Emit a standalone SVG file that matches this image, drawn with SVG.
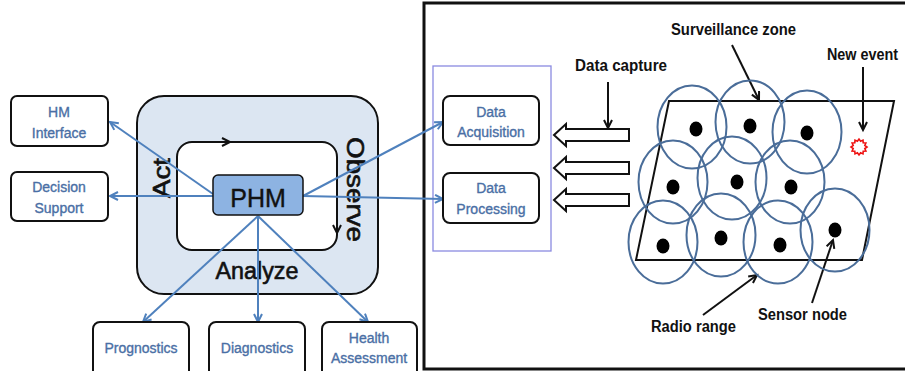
<svg xmlns="http://www.w3.org/2000/svg" width="905" height="371" viewBox="0 0 905 371">
<defs>
<style>
.box{fill:#fff;stroke:#111;stroke-width:2}
.bt{font-family:"Liberation Sans",Arial,sans-serif;font-size:14px;fill:#4a6fa5;stroke:#4a6fa5;stroke-width:0.35;text-anchor:middle}
.big{font-family:"Liberation Sans",Arial,sans-serif;font-size:23px;fill:#111;stroke:#111;stroke-width:0.6}
.lab{font-family:"Liberation Sans",Arial,sans-serif;font-size:16px;font-weight:bold;fill:#111}
.bl{stroke:#4f81bd;stroke-width:2;fill:none;marker-end:url(#ab)}
.kl{stroke:#111;stroke-width:2;fill:none;marker-end:url(#ak)}
.cir{fill:none;stroke:#4a6d99;stroke-width:2}
.blk{fill:#fff;stroke:#111;stroke-width:2;stroke-linejoin:miter}
</style>
<marker id="ab" markerWidth="12" markerHeight="12" refX="9" refY="5" orient="auto" markerUnits="userSpaceOnUse"><path d="M1,1 L9,5 L1,9" fill="none" stroke="#4f81bd" stroke-width="2"/></marker>
<marker id="ak" markerWidth="12" markerHeight="12" refX="9" refY="5" orient="auto" markerUnits="userSpaceOnUse"><path d="M1,1 L9,5 L1,9" fill="none" stroke="#111" stroke-width="2"/></marker>
</defs>
<rect width="905" height="371" fill="#fff"/>

<g id="phm-loop">
<rect x="137" y="96" width="241" height="198" rx="27" fill="#dce6f2" stroke="#111" stroke-width="2"/>
<rect x="177" y="142" width="160" height="108" rx="15" fill="#fff" stroke="#111" stroke-width="2"/>
<path d="M200,142 H230" class="kl"/>
<path d="M337,205 V233" class="kl"/>
<text class="big" text-anchor="middle" textLength="40" lengthAdjust="spacingAndGlyphs" transform="translate(170,178) rotate(-90)">Act</text>
<text class="big" text-anchor="middle" textLength="105" lengthAdjust="spacingAndGlyphs" transform="translate(347,189.5) rotate(90)">Observe</text>
<text class="big" x="257" y="279" text-anchor="middle" textLength="83" lengthAdjust="spacingAndGlyphs">Analyze</text>
</g>

<g id="frame">
<rect x="424" y="3" width="500" height="366" fill="none" stroke="#111" stroke-width="3"/>
<rect x="433" y="66" width="118" height="185" fill="none" stroke="#8a8ae0" stroke-width="1.3"/>
</g>

<g id="connectors">
<path class="bl" d="M213,194 L110,122"/>
<path class="bl" d="M213,196 L110,196"/>
<path class="bl" d="M303,196 L443,122"/>
<path class="bl" d="M303,196 L443,199"/>
<path class="bl" d="M258,216 L143,322"/>
<path class="bl" d="M258,216 L258,322"/>
<path class="bl" d="M258,216 L368,322"/>
<path class="kl" d="M608,82 V128"/>
<path class="kl" d="M732,45 L759,100"/>
<path class="kl" d="M863,67 V130"/>
<path class="kl" d="M703,315 L757,275"/>
<path class="kl" d="M812,303 L833,240"/>
</g>

<g id="phm">
<rect x="213" y="175" width="90" height="40" rx="5" fill="#8db3e2" stroke="#111" stroke-width="1.5"/>
<text x="258" y="207" text-anchor="middle" font-family="'Liberation Sans',Arial,sans-serif" font-size="25" fill="#111" stroke="#111" stroke-width="0.4">PHM</text>
</g>

<g id="hm-interface">
<rect class="box" x="11" y="96" width="97" height="50" rx="6"/>
<text class="bt" x="59" y="117">HM</text>
<text class="bt" x="59" y="138">Interface</text>
</g>
<g id="decision-support">
<rect class="box" x="11" y="172" width="97" height="49" rx="6"/>
<text class="bt" x="59" y="192">Decision</text>
<text class="bt" x="59" y="213">Support</text>
</g>
<g id="prognostics">
<rect class="box" x="93" y="322" width="96" height="60" rx="7"/>
<text class="bt" x="141" y="353">Prognostics</text>
</g>
<g id="diagnostics">
<rect class="box" x="209" y="322" width="96" height="60" rx="7"/>
<text class="bt" x="257" y="353">Diagnostics</text>
</g>
<g id="health-assessment">
<rect class="box" x="322" y="322" width="95" height="60" rx="7"/>
<text class="bt" x="369" y="343">Health</text>
<text class="bt" x="369" y="363">Assessment</text>
</g>
<g id="data-acquisition">
<rect class="box" x="443" y="96" width="96" height="49" rx="7"/>
<text class="bt" x="491" y="117">Data</text>
<text class="bt" x="491" y="137">Acquisition</text>
</g>
<g id="data-processing">
<rect class="box" x="443" y="173" width="96" height="50" rx="7"/>
<text class="bt" x="491" y="193">Data</text>
<text class="bt" x="491" y="214">Processing</text>
</g>

<g id="block-arrows">
<path class="blk" d="M554,135 L566,124 L566,129 L629,129 L629,141 L566,141 L566,146 Z"/>
<path class="blk" d="M554,168 L566,157 L566,162 L629,162 L629,174 L566,174 L566,179 Z"/>
<path class="blk" d="M554,200 L566,189 L566,194 L629,194 L629,206 L566,206 L566,211 Z"/>
</g>

<g id="surveillance-zone">
<polygon points="669,101 894,101 862,260 636,260" fill="none" stroke="#111" stroke-width="2"/>
<ellipse class="cir" cx="692" cy="127" rx="34.5" ry="41.5"/>
<ellipse class="cir" cx="750" cy="122" rx="34.5" ry="41.5"/>
<ellipse class="cir" cx="807" cy="132" rx="34.5" ry="41.5"/>
<ellipse class="cir" cx="673" cy="182" rx="34.5" ry="41.5"/>
<ellipse class="cir" cx="732" cy="178" rx="34.5" ry="41.5"/>
<ellipse class="cir" cx="790" cy="182" rx="34.5" ry="41.5"/>
<ellipse class="cir" cx="663" cy="242" rx="34.5" ry="41.5"/>
<ellipse class="cir" cx="721" cy="235" rx="34.5" ry="41.5"/>
<ellipse class="cir" cx="778" cy="242" rx="34.5" ry="41.5"/>
<ellipse class="cir" cx="835" cy="230" rx="34.5" ry="41.5"/>
<g fill="#000">
<ellipse cx="696" cy="129" rx="6.5" ry="7.5"/>
<ellipse cx="750" cy="126" rx="6.5" ry="7.5"/>
<ellipse cx="807" cy="133" rx="6.5" ry="7.5"/>
<ellipse cx="673" cy="187" rx="6.5" ry="7.5"/>
<ellipse cx="737" cy="182" rx="6.5" ry="7.5"/>
<ellipse cx="791" cy="187" rx="6.5" ry="7.5"/>
<ellipse cx="663" cy="246" rx="6.5" ry="7.5"/>
<ellipse cx="721" cy="238" rx="6.5" ry="7.5"/>
<ellipse cx="780" cy="245" rx="6.5" ry="7.5"/>
<ellipse cx="835" cy="230" rx="6.5" ry="7.5"/>
</g>
<polygon points="867,147 864.8,148.6 865.9,151 863.2,151.2 863,153.9 860.6,152.8 859,155 857.4,152.8 855,153.9 854.8,151.2 852.1,151 853.2,148.6 851,147 853.2,145.4 852.1,143 854.8,142.8 855,140.1 857.4,141.2 859,139 860.6,141.2 863,140.1 863.2,142.8 865.9,143 864.8,145.4" fill="none" stroke="#ee1111" stroke-width="1.6"/>
</g>

<g id="labels">
<text class="lab" x="575" y="71" textLength="92" lengthAdjust="spacingAndGlyphs">Data capture</text>
<text class="lab" x="671" y="35" textLength="125" lengthAdjust="spacingAndGlyphs">Surveillance zone</text>
<text class="lab" x="827" y="60" textLength="71" lengthAdjust="spacingAndGlyphs">New event</text>
<text class="lab" x="651" y="332" textLength="85" lengthAdjust="spacingAndGlyphs">Radio range</text>
<text class="lab" x="758" y="320" textLength="89" lengthAdjust="spacingAndGlyphs">Sensor node</text>
</g>
</svg>
